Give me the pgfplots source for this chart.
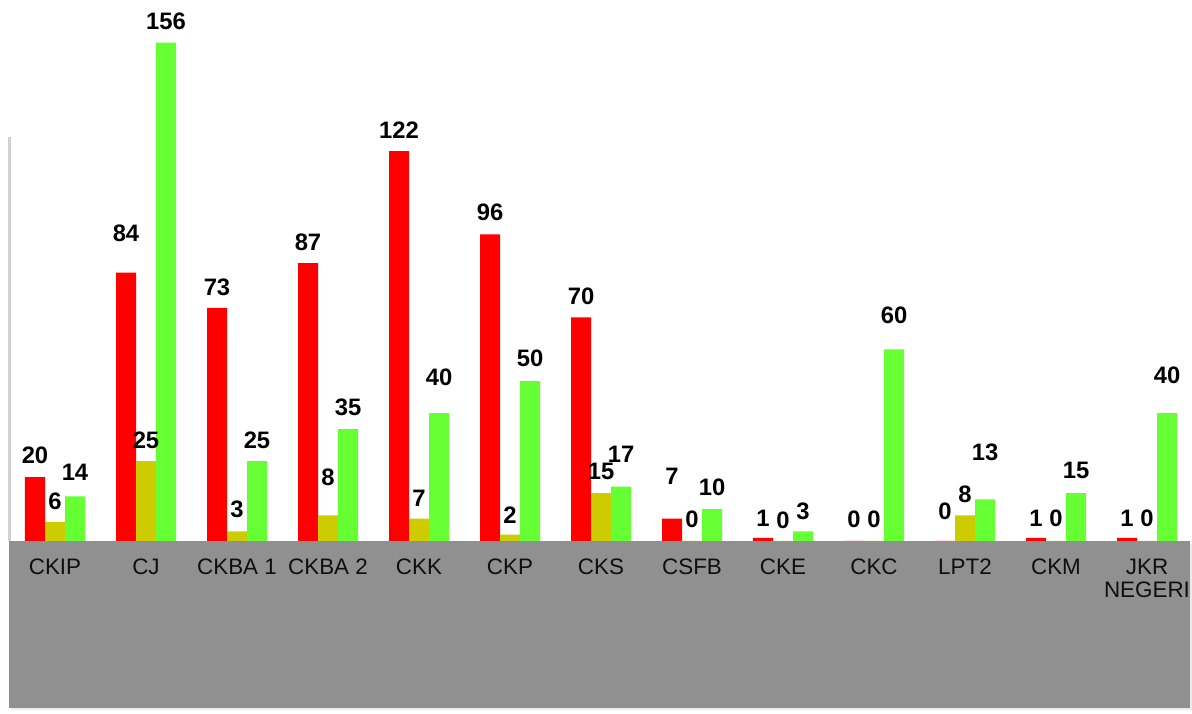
\documentclass[border=0pt]{standalone}
\usepackage{pgfplots}
\pgfplotsset{compat=1.18}
\usepackage{pgfplotstable}
\usepackage{fontspec}
\setmainfont{Liberation Sans}
\definecolor{cRed}{RGB}{255,0,0}
\definecolor{cOlive}{RGB}{204,204,0}
\definecolor{cGreen}{RGB}{102,255,51}
\definecolor{floorgray}{RGB}{144,144,144}
\definecolor{txt}{RGB}{15,15,15}
\pgfplotstableread{
x red olive green ro oo go
0 20 6 14 1 0 3
1 84 25 156 19 0 1
2 73 3 25 0 1 0
3 87 8 35 0 17 1
4 122 7 40 0 0 15
5 96 2 50 1 -1 2
6 70 15 17 0 1 12
7 7 0 10 22 1 1
8 1 0 3 -1 0 -1
9 0 0 60 1 1 13
10 0 8 13 9 0 26
11 1 0 15 -1 2 2
12 1 0 40 -1 2 17
}\data
\begin{document}
\begin{tikzpicture}
\begin{axis}[
  at={(0,0)}, anchor=south west,
  axis on top,
  scale only axis, width=591.5pt, height=355pt,
  xmin=-0.5, xmax=12.5, ymin=-52.9, ymax=169.33,
  axis line style={draw=none},
  xtick style={draw=none},
  xtick pos=bottom,
  xtick={0,1,2,3,4,5,6,7,8,9,10,11,12},
  xticklabels={CKIP,CJ,CKBA 1,CKBA 2,CKK,CKP,CKS,CSFB,CKE,CKC,LPT2,CKM,{JKR\\NEGERI}},
  x tick label style={align=center, font=\fontsize{11.2}{11.5}\selectfont, text=txt, yshift=83.5pt},
  ytick=\empty,
  ybar=0pt, bar width=10pt,
  clip=false,
  /pgf/number format/assume math mode=true,
  nodes near coords,
  every node near coord/.append style={anchor=base, font=\fontsize{11.9}{13}\selectfont\bfseries, text=black, yshift=6.25pt+\extra*0.5pt},
]
\fill[black!8] (axis cs:-0.48,-1) rectangle (axis cs:12.5,-52.9);
\fill[floorgray] (axis cs:-0.5,0) rectangle (axis cs:12.47,-52.3);
\draw[black!18, line width=1.5pt] (axis cs:-0.5,0) -- (axis cs:-0.5,126.4);
\addplot[fill=cRed, draw=none, visualization depends on={\thisrow{ro} \as \extra}] table[x=x,y=red] {\data};
\addplot[fill=cOlive, draw=none, visualization depends on={\thisrow{oo} \as \extra}] table[x=x,y=olive] {\data};
\addplot[fill=cGreen, draw=none, visualization depends on={\thisrow{go} \as \extra}] table[x=x,y=green] {\data};
\end{axis}
\pgfresetboundingbox
\path (-4.75pt,-1.5pt) rectangle (591.25pt,355pt);
\end{tikzpicture}
\end{document}
